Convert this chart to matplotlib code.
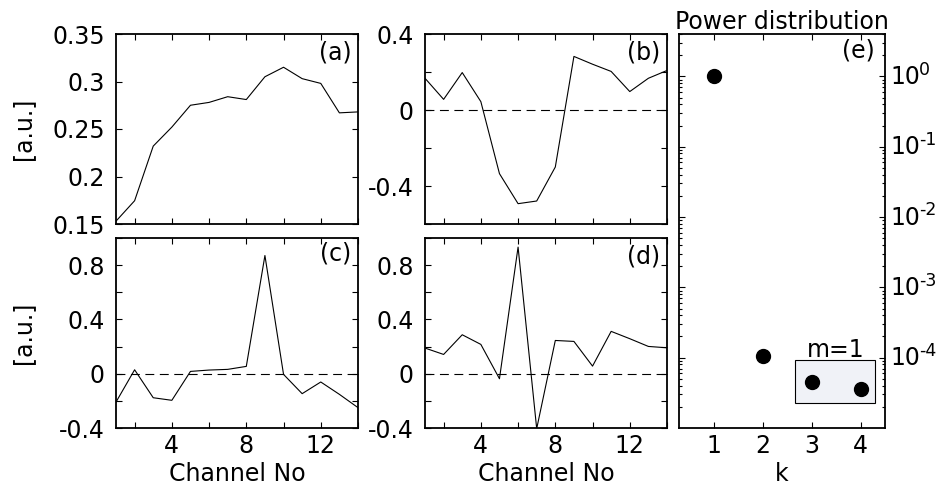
import numpy as np
import matplotlib
matplotlib.use('Agg')
import matplotlib.pyplot as plt
from matplotlib.patches import Rectangle

plt.rcParams['font.family'] = ['DejaVu Sans']

# --------------------------------------------------------------------------------------------------
# data

channels = np.arange(1, 15)

mode_a = [0.153, 0.1745, 0.232, 0.252, 0.275, 0.278, 0.284, 0.281, 0.305, 0.315,
          0.303, 0.298, 0.267, 0.268]
mode_b = [0.167, 0.056, 0.197, 0.044, -0.335, -0.493, -0.479, -0.300, 0.282, 0.241,
          0.203, 0.097, 0.167, 0.208]
mode_c = [-0.209, 0.029, -0.177, -0.196, 0.017, 0.027, 0.032, 0.054, 0.871, -0.005,
          -0.147, -0.061, -0.152, -0.250]
mode_d = [0.189, 0.142, 0.287, 0.216, -0.037, 0.933, -0.405, 0.245, 0.238, 0.056,
          0.312, 0.258, 0.201, 0.191]

k_vals = [1, 2, 3, 4]
power = [1.0, 1.05e-4, 4.5e-5, 3.6e-5]
decades = [1, 1e-1, 1e-2, 1e-3, 1e-4]
exponents = ['0', '-1', '-2', '-3', '-4']

fs = 17

# --------------------------------------------------------------------------------------------------

def style_axis(ax):
    for axis in ['top', 'bottom', 'left', 'right']:
        ax.spines[axis].set_linewidth(1.3)
    ax.tick_params(which='both', direction='in', top=True, right=True,
                   labelsize=fs, width=0.8)
    ax.tick_params(which='major', length=4)
    ax.tick_params(axis='y', pad=8)
    ax.tick_params(axis='x', pad=4)


def plot_mode(ax, vals, label, ylim, yticks, ylabels, dashed, ly):
    ax.plot(channels, vals, color='k', lw=0.8)
    if dashed:
        ax.axhline(0, color='k', lw=0.8, dashes=(8, 5))
    ax.set_xlim(1, 14)
    ax.set_ylim(*ylim)
    ax.set_xticks(np.arange(2, 15, 2))
    ax.set_xticklabels(['', '4', '', '8', '', '12', ''])
    ax.set_yticks(yticks)
    ax.set_yticklabels(ylabels)
    style_axis(ax)
    ax.text(0.973, ly, label, transform=ax.transAxes, ha='right', va='center',
            fontsize=fs)


fig = plt.figure(figsize=(9.42, 4.92), dpi=100)

w = 242 / 942
h = 190 / 492
ax_a = fig.add_axes([116 / 942, 1 - 224 / 492, w, h])
ax_b = fig.add_axes([425 / 942, 1 - 224 / 492, w, h])
ax_c = fig.add_axes([116 / 942, 1 - 428 / 492, w, h])
ax_d = fig.add_axes([425 / 942, 1 - 428 / 492, w, h])
ax_e = fig.add_axes([679 / 942, 1 - 428 / 492, 206 / 942, 394 / 492])

plot_mode(ax_a, mode_a, '(a)', (0.15, 0.35), [0.15, 0.2, 0.25, 0.3, 0.35],
          ['0.15', '0.2', '0.25', '0.3', '0.35'], False, 0.905)
plot_mode(ax_b, mode_b, '(b)', (-0.6, 0.4), [-0.6, -0.4, -0.2, 0, 0.2, 0.4],
          ['', '-0.4', '', '0', '', '0.4'], True, 0.905)
plot_mode(ax_c, mode_c, '(c)', (-0.4, 1.0), [-0.4, -0.2, 0, 0.2, 0.4, 0.6, 0.8, 1.0],
          ['-0.4', '', '0', '', '0.4', '', '0.8', ''], True, 0.92)
plot_mode(ax_d, mode_d, '(d)', (-0.4, 1.0), [-0.4, -0.2, 0, 0.2, 0.4, 0.6, 0.8, 1.0],
          ['-0.4', '', '0', '', '0.4', '', '0.8', ''], True, 0.9)

for ax in [ax_a, ax_b]:
    ax.set_xticklabels([])

ax_c.set_xlabel('Channel No', fontsize=fs, labelpad=3)
ax_d.set_xlabel('Channel No', fontsize=fs, labelpad=3)

fig.text(23 / 942, 1 - 129 / 492, '[a.u.]', rotation=90, ha='center', va='center',
         fontsize=fs)
fig.text(23 / 942, 1 - 333 / 492, '[a.u.]', rotation=90, ha='center', va='center',
         fontsize=fs)

# power distribution
ax_e.semilogy(k_vals, power, 'o', color='k', ms=10)
ax_e.set_xlim(0.28, 4.5)
ax_e.set_ylim(1e-5, 4)
ax_e.set_xticks(k_vals)
ax_e.set_yticks(decades)
ax_e.set_yticklabels([])
style_axis(ax_e)
ax_e.tick_params(axis='y', which='minor', length=2)

# decade labels drawn as "10" plus a raised exponent, like the original
for v, ex in zip(decades, exponents):
    ax_e.annotate('10', xy=(1, v), xycoords=('axes fraction', 'data'),
                  xytext=(3.6, -5.5), textcoords='offset points',
                  ha='left', va='baseline', fontsize=fs, annotation_clip=False)
    ax_e.annotate(ex, xy=(1, v), xycoords=('axes fraction', 'data'),
                  xytext=(24.5, 1.2), textcoords='offset points',
                  ha='left', va='baseline', fontsize=12.5, annotation_clip=False)

ax_e.set_xlabel('k', fontsize=fs, labelpad=3)
ax_e.set_title('Power distribution', fontsize=fs, pad=3)
ax_e.text(0.951, 0.959, '(e)', transform=ax_e.transAxes, ha='right', va='center',
          fontsize=fs)

box = Rectangle((2.65, 2.3e-5), 1.65, 9.3e-5 - 2.3e-5, facecolor='#f0f2f7',
                edgecolor='k', lw=0.8, zorder=1)
ax_e.add_patch(box)
ax_e.text(3.5, 1.3e-4, 'm=1', ha='center', va='center', fontsize=fs)

fig.savefig('out.png', dpi=100)
